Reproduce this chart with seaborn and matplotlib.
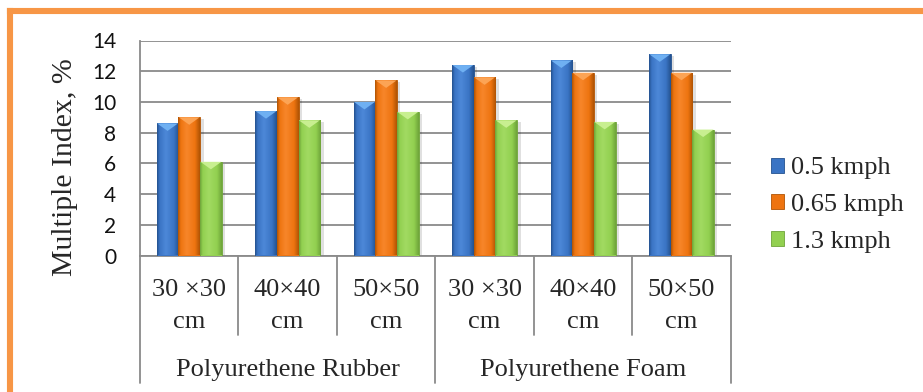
import numpy as np
import pandas as pd
import matplotlib
matplotlib.use("Agg")
import matplotlib.pyplot as plt
import seaborn as sns
from matplotlib.colors import LinearSegmentedColormap
from matplotlib.patches import Patch, Polygon
from matplotlib.lines import Line2D

# ---- data ----
materials = ["Polyurethene Rubber", "Polyurethene Foam"]
sizes = ["30 ×30", "40×40", "50×50"]
unit = "cm"
speeds = ["0.5 kmph", "0.65 kmph", "1.3 kmph"]
v_05 = [8.6, 9.4, 10.0, 12.4, 12.7, 13.1]
v_065 = [9.0, 10.3, 11.4, 11.6, 11.9, 11.9]
v_13 = [6.1, 8.8, 9.35, 8.8, 8.7, 8.2]
y_ticks = [0, 2, 4, 6, 8, 10, 12, 14]

keys = [f"{m} | {s}" for m in materials for s in sizes]
df = pd.DataFrame({
    "key": keys * 3,
    "speed": np.repeat(speeds, len(keys)),
    "value": v_05 + v_065 + v_13,
})

# base / light / dark / bevel tones per series
palette = ["#3A74C4", "#EE7410", "#92D050"]
lights = ["#4D88D8", "#F7862A", "#A2DA62"]
darks = ["#24528F", "#B05404", "#6FA43A"]
tops = ["#6FB0F2", "#FCA455", "#C8EF90"]

SERIF = ["Liberation Serif", "DejaVu Serif"]
SANS = ["Lato", "DejaVu Sans"]
GRID = "#8A8A8A"

sns.set_style("white")
plt.rcParams["font.family"] = SERIF

W, H = 923, 392
fig = plt.figure(figsize=(W / 100, H / 100), dpi=100)
ax_l, ax_r, ax_t, ax_b = 140, 730.7, 40.5, 255.5
ax = fig.add_axes([ax_l / W, 1 - ax_b / H, (ax_r - ax_l) / W, (ax_b - ax_t) / H])

sns.barplot(data=df, x="key", y="value", hue="speed", order=keys,
            hue_order=speeds, palette=palette, width=0.66, gap=0,
            legend=False, ax=ax, saturation=1, zorder=3)

ax.set_xlim(-0.5, len(keys) - 0.5)
ax.set_ylim(0, 14)

# px -> data height for the bevel on each bar top
px_per_unit = (ax_b - ax_t) / 14.0

for cont, base, lt, dk, tp in zip(ax.containers, palette, lights, darks, tops):
    cmap = LinearSegmentedColormap.from_list(
        "bar", [(0, dk), (0.12, base), (0.4, lt), (0.78, base), (1, dk)])
    grad = np.linspace(0, 1, 64)[None, :]
    for p in cont.patches:
        x, w, h = p.get_x(), p.get_width(), p.get_height()
        p.set_edgecolor(dk)
        p.set_linewidth(0.6)
        # soft drop shadow
        sh = plt.Rectangle((x + 0.035, 0), w, h - 0.12, facecolor="#000000",
                           alpha=0.12, edgecolor="none", zorder=2)
        ax.add_patch(sh)
        im = ax.imshow(grad, cmap=cmap, extent=(x, x + w, 0, h),
                       aspect="auto", zorder=3.5, interpolation="bilinear")
        im.set_clip_path(p)
        d = 7.5 / px_per_unit
        ax.add_patch(Polygon([(x + 0.004, h), (x + w - 0.004, h), (x + w / 2, h - d)],
                             closed=True, facecolor=tp, edgecolor="none",
                             zorder=4))

ax.set_xlim(-0.5, len(keys) - 0.5)
ax.set_ylim(0, 14)

# axes styling
ax.set_yticks(y_ticks)
ax.yaxis.grid(True, color=GRID, linewidth=1.3, zorder=0)
ax.set_axisbelow(True)
for s in ["top", "right"]:
    ax.spines[s].set_visible(False)
for s in ["left", "bottom"]:
    ax.spines[s].set_color(GRID)
    ax.spines[s].set_linewidth(1.3)
ax.tick_params(axis="y", length=6, width=1.3, color=GRID, pad=11,
               labelsize=15, labelcolor="#111111")
for t in ax.get_yticklabels():
    t.set_fontfamily(SANS)
ax.set_xticks([])
ax.set_xlabel("")
ax.set_ylabel("")

# two-level category axis
tr = ax.get_xaxis_transform()
def fy(px):
    return -(px - ax_b) / (ax_b - ax_t)

for i in range(len(keys)):
    b = i - 0.5
    if i % 3 == 0:
        ax.plot([b, b], [0, fy(383)], transform=tr, color=GRID, lw=1.3, clip_on=False)
    else:
        ax.plot([b, b], [0, fy(335)], transform=tr, color=GRID, lw=1.3, clip_on=False)
ax.plot([len(keys) - 0.5] * 2, [0, fy(383)], transform=tr, color=GRID, lw=1.3, clip_on=False)

for i, k in enumerate(keys):
    s = sizes[i % 3]
    ax.text(i, fy(296.5), s, transform=tr, ha="center", va="baseline",
            fontsize=19, family=SERIF)
    ax.text(i, fy(328), unit, transform=tr, ha="center", va="baseline",
            fontsize=19, family=SERIF)
for j, m in enumerate(materials):
    ax.text(j * 3 + 1, fy(376), m, transform=tr, ha="center", va="baseline",
            fontsize=19, family=SERIF)

fig.text(65 / W, 1 - 167.5 / H, "Multiple Index, %", rotation=90,
         ha="center", va="center", fontsize=21.5, family=SERIF)

handles = [Patch(facecolor=c, edgecolor=d, linewidth=0.6) for c, d in zip(palette, darks)]
leg = fig.legend(handles, speeds, loc="center left",
                 bbox_to_anchor=(771 / W, 1 - 205 / H), frameon=False,
                 handlelength=0.5, handleheight=0.5,
                 handletextpad=0.25, labelspacing=0.55, borderpad=0,
                 borderaxespad=0, prop={"family": SERIF, "size": 19})

# orange frame around the chart area
frame_c = "#F79646"
fig.add_artist(Line2D([10 / W, 1.0], [1 - 11 / H, 1 - 11 / H], color=frame_c,
                      lw=4.4, transform=fig.transFigure, solid_capstyle="projecting"))
fig.add_artist(Line2D([10 / W, 10 / W], [1 - 11 / H, 0.0], color=frame_c,
                      lw=4.4, transform=fig.transFigure, solid_capstyle="projecting"))

fig.savefig("out.png", dpi=100, facecolor="white")
